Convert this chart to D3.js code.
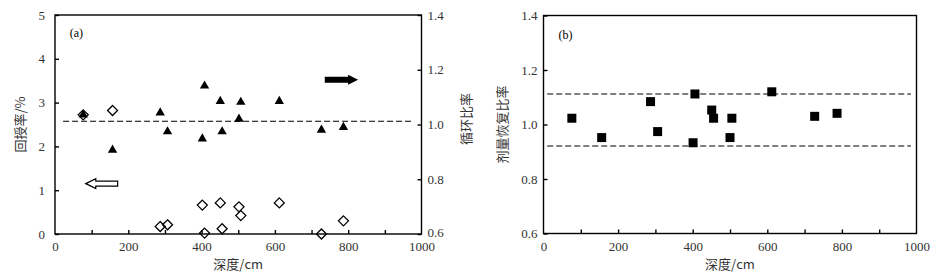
<!DOCTYPE html>
<html>
<head>
<meta charset="utf-8">
<script src="https://cdn.jsdelivr.net/npm/d3@7"></script>
<style>
  body { margin: 0; background: #fff; }
  svg { display: block; }
  .axis path, .axis line { stroke: #000; stroke-width: 1.4; }
  .axis text { font-family: "Liberation Serif", serif; font-size: 13px; fill: #333; }
  .title { font-family: "Noto Sans CJK SC", sans-serif; font-size: 13px; fill: #333; }
  .tag { font-family: "Liberation Serif", serif; font-size: 12px; fill: #000; }
</style>
</head>
<body>
<svg id="chart" width="938" height="278"></svg>
<script>
// depth in cm, shared by both panels
const depthA = [77, 157, 287, 307, 402, 408, 451, 456, 502, 507, 612, 727, 787];
// (a) triangles: cycle ratio (right axis)
const cycleRatio = [1.035, 0.907, 1.043, 0.974, 0.948, 1.141, 1.085, 0.974, 1.020, 1.082, 1.085, 0.980, 0.990];
// (a) diamonds: feedback rate % (left axis)
const feedbackRate = [2.72, 2.82, 0.17, 0.21, 0.66, 0.02, 0.71, 0.12, 0.62, 0.42, 0.71, 0.00, 0.30];
const refLineA = 1.012;

// (b) squares: dose recovery ratio
const depthB = [76, 156, 287, 306, 401, 406, 451, 456, 500, 505, 612, 727, 787];
const doseRatio = [1.023, 0.952, 1.084, 0.974, 0.933, 1.112, 1.053, 1.023, 0.952, 1.023, 1.12, 1.03, 1.041];
const refLinesB = [1.112, 0.921];

const xTicks = [0, 200, 400, 600, 800, 1000];
const leftTicksA = [0, 1, 2, 3, 4, 5];
const ratioTicks = [0.6, 0.8, 1.0, 1.2, 1.4];

const svg = d3.select('#chart');
const fmt1 = d3.format('.1f');

function frame(g, x, w, h) {
  g.append('rect')
    .attr('x', 0).attr('y', 0).attr('width', w).attr('height', h)
    .attr('fill', 'none').attr('stroke', '#000').attr('stroke-width', 1.4);
  // bottom axis: labels every 200, inward ticks every 100
  g.append('g')
    .attr('class', 'axis')
    .attr('transform', `translate(0,${h})`)
    .call(d3.axisBottom(x).tickValues(d3.range(100, 1000, 100)).tickSize(-4).tickFormat(''))
    .call((s) => s.select('.domain').remove());
  g.append('g')
    .attr('class', 'axis')
    .attr('transform', `translate(0,${h})`)
    .call(d3.axisBottom(x).tickValues(xTicks).tickSize(0).tickPadding(8).tickFormat(d3.format('d')))
    .call((s) => s.select('.domain').remove());
}

// ---------- panel (a) ----------
const A = { left: 55, top: 15, width: 366.5, height: 219 };
const gA = svg.append('g').attr('transform', `translate(${A.left},${A.top})`);
const xA = d3.scaleLinear().domain([0, 1000]).range([0, A.width]);
const yLeft = d3.scaleLinear().domain([0, 5]).range([A.height, 0]);
const yRight = d3.scaleLinear().domain([0.6, 1.4]).range([A.height, 0]);

frame(gA, xA, A.width, A.height);

gA.append('g')
  .attr('class', 'axis')
  .call(d3.axisLeft(yLeft).tickValues(leftTicksA).tickSize(-4).tickPadding(10).tickFormat(d3.format('d')))
  .call((s) => s.select('.domain').remove());

gA.append('g')
  .attr('class', 'axis')
  .attr('transform', `translate(${A.width},0)`)
  .call(d3.axisRight(yRight).tickValues(ratioTicks).tickSize(-4).tickPadding(6).tickFormat(fmt1))
  .call((s) => s.select('.domain').remove())
  .call((s) => s.selectAll('.tick text').filter((d) => d === 0.6).attr('dy', '0.2em'));

gA.append('line')
  .attr('x1', xA(22)).attr('x2', xA(975))
  .attr('y1', yRight(refLineA)).attr('y2', yRight(refLineA))
  .attr('stroke', '#000').attr('stroke-width', 1.1).attr('stroke-dasharray', '6,3');

const tri = d3.symbol().type(d3.symbolTriangle).size(38);
gA.selectAll('.tri')
  .data(depthA)
  .join('path')
  .attr('class', 'tri')
  .attr('d', tri)
  .attr('transform', (d, i) => `translate(${xA(d)},${yRight(cycleRatio[i])})`)
  .attr('fill', '#000');

gA.selectAll('.dia')
  .data(depthA)
  .join('path')
  .attr('class', 'dia')
  .attr('d', 'M0,-5L5,0L0,5L-5,0Z')
  .attr('transform', (d, i) => `translate(${xA(d)},${yLeft(feedbackRate[i])})`)
  .attr('fill', 'none')
  .attr('stroke', '#000')
  .attr('stroke-width', 1.3);

// hollow arrow pointing left (to left axis)
const hollow = { x0: 84, x1: 171, y: 1.15 };
{
  const x0 = xA(hollow.x0); const x1 = xA(hollow.x1); const y = yLeft(hollow.y);
  gA.append('path')
    .attr('d', `M${x0},${y}L${x0 + 10},${y - 5}L${x0 + 10},${y - 2.5}L${x1},${y - 2.5}L${x1},${y + 2.5}L${x0 + 10},${y + 2.5}L${x0 + 10},${y + 5}Z`)
    .attr('fill', '#fff').attr('stroke', '#000').attr('stroke-width', 1.2);
}
// filled arrow pointing right (to right axis)
const filled = { x0: 736, x1: 827, y: 3.52 };
{
  const x0 = xA(filled.x0); const x1 = xA(filled.x1); const y = yLeft(filled.y);
  gA.append('path')
    .attr('d', `M${x1},${y}L${x1 - 10},${y - 5}L${x1 - 10},${y - 3}L${x0},${y - 3}L${x0},${y + 3}L${x1 - 10},${y + 3}L${x1 - 10},${y + 5}Z`)
    .attr('fill', '#000');
}

gA.append('text').attr('class', 'tag')
  .attr('x', xA(40)).attr('y', yLeft(4.6)).attr('dy', '0.35em').text('(a)');

svg.append('text').attr('class', 'title')
  .attr('transform', `translate(20,${A.top + A.height / 2}) rotate(-90)`)
  .attr('text-anchor', 'middle').attr('dy', '0.35em').text('回授率/%');
svg.append('text').attr('class', 'title')
  .attr('transform', `translate(466,119) rotate(-90)`)
  .attr('text-anchor', 'middle').attr('dy', '0.35em').text('循环比率');
svg.append('text').attr('class', 'title')
  .attr('x', A.left + A.width / 2).attr('y', 264)
  .attr('text-anchor', 'middle').attr('dy', '0.35em').text('深度/cm');

// ---------- panel (b) ----------
const B = { left: 543.5, top: 15.5, width: 373, height: 218 };
const gB = svg.append('g').attr('transform', `translate(${B.left},${B.top})`);
const xB = d3.scaleLinear().domain([0, 1000]).range([0, B.width]);
const yB = d3.scaleLinear().domain([0.6, 1.4]).range([B.height, 0]);

frame(gB, xB, B.width, B.height);

gB.append('g')
  .attr('class', 'axis')
  .call(d3.axisLeft(yB).tickValues(ratioTicks).tickSize(-4).tickPadding(6).tickFormat(fmt1))
  .call((s) => s.select('.domain').remove());

gB.selectAll('.ref')
  .data(refLinesB)
  .join('line')
  .attr('class', 'ref')
  .attr('x1', xB(10)).attr('x2', xB(985))
  .attr('y1', (d) => yB(d)).attr('y2', (d) => yB(d))
  .attr('stroke', '#000').attr('stroke-width', 1.1).attr('stroke-dasharray', '6,3');

gB.selectAll('.sq')
  .data(depthB)
  .join('rect')
  .attr('class', 'sq')
  .attr('x', (d) => xB(d) - 4.5)
  .attr('y', (d, i) => yB(doseRatio[i]) - 4.5)
  .attr('width', 9).attr('height', 9)
  .attr('fill', '#000');

gB.append('text').attr('class', 'tag')
  .attr('x', xB(40)).attr('y', yB(1.33)).attr('dy', '0.35em').text('(b)');

svg.append('text').attr('class', 'title')
  .attr('transform', `translate(502,${B.top + B.height / 2}) rotate(-90)`)
  .attr('text-anchor', 'middle').attr('dy', '0.35em').text('剂量恢复比率');
svg.append('text').attr('class', 'title')
  .attr('x', B.left + B.width / 2).attr('y', 264)
  .attr('text-anchor', 'middle').attr('dy', '0.35em').text('深度/cm');
</script>
</body>
</html>
